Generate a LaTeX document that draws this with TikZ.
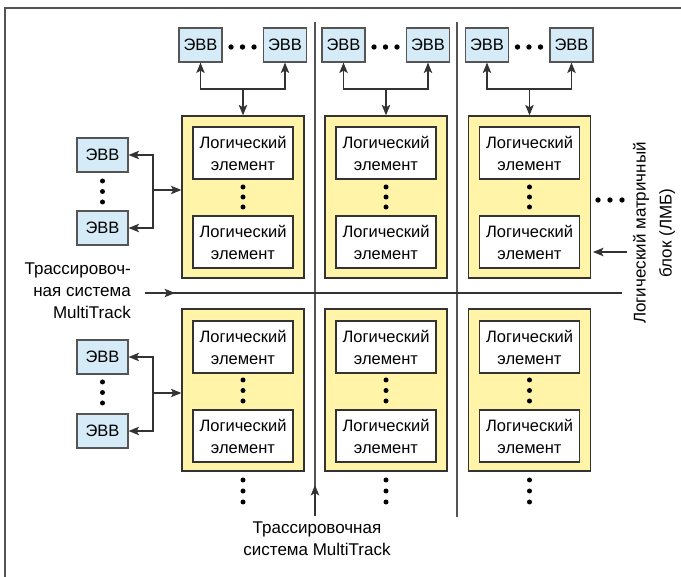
\documentclass[tikz,border=0pt]{standalone}
\usepackage{fontspec}
\setmainfont{Liberation Sans}
\usetikzlibrary{arrows.meta}
\definecolor{evvfill}{HTML}{D5EBF8}
\definecolor{lmbfill}{HTML}{FFF4A8}
\definecolor{edge}{HTML}{333333}
\definecolor{rule}{HTML}{555555}
\tikzset{
  evv/.style={draw=rule, fill=evvfill, line width=1.2pt, minimum height=34pt,
    inner sep=0pt, font=\fontsize{16.5}{20}\selectfont},
  lmb/.style={draw=edge, fill=lmbfill, line width=1.3pt, minimum width=122pt,
    minimum height=162pt, inner sep=0pt},
  lelem/.style={draw=edge, fill=white, line width=1.3pt, minimum width=100pt,
    minimum height=52pt, inner sep=0pt, align=center,
    font=\fontsize{16.5}{22}\selectfont},
  arr/.style={draw=edge, line width=1.1pt, -{Stealth[length=10.5pt,width=8.5pt,inset=2.5pt]}},
  track/.style={draw=edge, line width=1.3pt},
  lbl/.style={inner sep=0pt, font=\fontsize{17}{22}\selectfont},
  dot/.style={fill=black, draw=none}
}
\newcommand{\tridot}[3]{%
  \fill (#1,#2) circle (2.5pt);
  \fill (#1,#2+#3) circle (2.5pt);
  \fill (#1,#2+2*#3) circle (2.5pt);}
\newcommand{\hdots}[3]{%
  \fill (#1,#2) circle (2.7pt);
  \fill (#1+#3,#2) circle (2.7pt);
  \fill (#1+2*#3,#2) circle (2.7pt);}
\begin{document}
\begin{tikzpicture}[x=1pt,y=-1pt]
\useasboundingbox (0,0) rectangle (681,577);
% outer frame
\draw[rule, line width=1.4pt] (5,577) -- (5,8) -- (681,8);

% routing lines
\draw[track, draw=rule] (315,22) -- (315,516);
\draw[track, draw=rule] (457,22) -- (457,517);
\draw[track] (145,293) -- (622,293);
\draw[arr] (145,293) -- (175,293);
\draw[arr] (315,516) -- (315,485);

% logic array blocks, columns
\foreach \cx/\c in {243/1, 386/2, 529.5/3}{
  % top row block
  \node[lmb] (Y1\c) at (\cx,197) {};
  \node[lelem] (E1\c a) at (\cx,153) {Логический\\элемент};
  \node[lelem] (E1\c b) at (\cx,242) {Логический\\элемент};
  \tridot{\cx}{187}{10}
  % bottom row block
  \node[lmb] (Y2\c) at (\cx,390) {};
  \node[lelem] (E2\c a) at (\cx,347) {Логический\\элемент};
  \node[lelem] (E2\c b) at (\cx,436) {Логический\\элемент};
  \tridot{\cx}{380}{10.5}
  % continuation below
  \tridot{\cx}{480}{11}
  % I/O elements above
  \node[evv, minimum width=43pt] (T\c a) at (\cx-42.5,45) {ЭВВ};
  \node[evv, minimum width=43pt] (T\c b) at (\cx+42,45) {ЭВВ};
  \hdots{\cx-12}{47}{11.5}
  \coordinate (t\c) at (\cx,89);
  \draw[arr] (t\c) -- (Y1\c.north);
  \draw[arr] (t\c) -| (T\c a);
  \draw[arr] (t\c) -| (T\c b);
}

% I/O elements on the left
\node[evv, minimum width=51pt] (L1a) at (102.5,155) {ЭВВ};
\node[evv, minimum width=51pt] (L1b) at (102.5,228) {ЭВВ};
\node[evv, minimum width=51pt] (L2a) at (102.5,357) {ЭВВ};
\node[evv, minimum width=51pt] (L2b) at (102.5,431) {ЭВВ};
\tridot{102.5}{181}{10.5}
\tridot{102.5}{382}{10.5}
\coordinate (j1) at (153,190);
\coordinate (j2) at (153,393);
\draw[arr] (j1) -- (j1 -| Y11.west);
\draw[arr] (j1) |- (L1a);
\draw[arr] (j1) |- (L1b);
\draw[arr] (j2) -- (j2 -| Y21.west);
\draw[arr] (j2) |- (L2a);
\draw[arr] (j2) |- (L2b);

% continuation to the right
\hdots{598}{200}{12}
\coordinate (rarr) at (627,252);
\draw[arr] (rarr) -- (593,252);

% labels
\node[lbl, align=right, anchor=east] (lblH) at (131,291)
  {Трассировоч-\\ная система\\MultiTrack};
\node[lbl, align=center] (lblV) at (317,539)
  {Трассировочная\\система MultiTrack};
\node[lbl, align=center, rotate=90, font=\fontsize{17}{26}\selectfont] (lblB) at (654,233)
  {Логический матричный\\блок (ЛМБ)};
\end{tikzpicture}
\end{document}
